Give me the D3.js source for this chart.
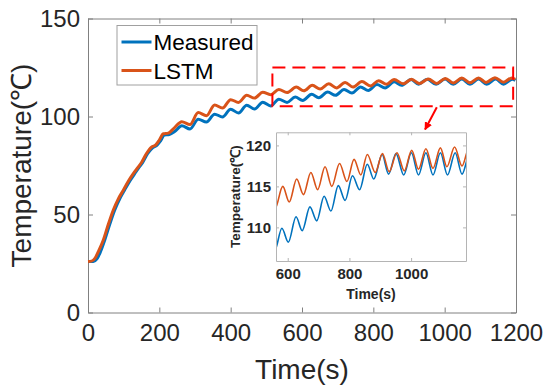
<!DOCTYPE html>
<html>
<head>
<meta charset="utf-8">
<script src="https://cdn.jsdelivr.net/npm/d3@7"></script>
<style>
  body { margin: 0; background: #fff; }
  svg { display: block; }
</style>
</head>
<body>
<svg id="chart" width="545" height="388"></svg>
<script>
// measured temperature (blue)
var measuredTime = [0, 15, 25, 35, 47, 61, 75, 89, 103, 117, 131, 143, 153, 167, 181, 193, 203, 214, 228, 243,
  263, 286, 309, 332, 355, 377, 400, 422, 445, 467, 490, 512, 535, 558, 581, 602, 627, 647, 672, 694,
  718, 740, 764, 786, 810, 833, 858, 879, 906, 927, 951, 976, 1001, 1024, 1048, 1071, 1095, 1118, 1143, 1165, 1190, 1198];
var measuredTemp = [26, 26, 27.3, 31, 37, 45, 52.3, 58, 62.6, 67, 70.8, 74, 76.5, 81, 84, 85.3, 87.5, 90.5, 90.8, 92.3,
  95.3, 93.6, 98.6, 97.2, 101.2, 99.8, 103.7, 101.8, 105.8, 103.8, 107.3, 105.4, 108.8, 107.2, 109.9, 108.2, 111.3, 109.6, 112.5, 110.8,
  113.8, 112.0, 115.1, 113.3, 116.3, 114.6, 117.7, 115.9, 118.9, 116.5, 119.0, 116.4, 119.1, 116.4, 119.1, 116.4, 119.1, 116.4, 119.1, 116.5, 119.0, 118.4];

// LSTM prediction (orange)
var lstmTime = [0, 10, 20, 30, 43, 57, 71, 85, 99, 113, 127, 140, 150, 164, 178, 190, 200, 211, 225, 240,
  263, 286, 309, 332, 355, 377, 400, 422, 445, 467, 490, 512, 535, 558, 584, 605, 629, 651, 675, 697,
  721, 743, 768, 792, 815, 837, 858, 884, 907, 929, 954, 978, 1002, 1024, 1048, 1071, 1095, 1116, 1141, 1165, 1188, 1198];
var lstmTemp = [26, 26.2, 27.8, 31.5, 37, 45, 52.3, 58, 62.4, 67, 70.9, 74, 76.5, 81.1, 84.4, 85.5, 88, 91.2, 91.5, 93.8,
  97.3, 95.9, 102.0, 100.4, 105.9, 104.3, 108.6, 107.2, 110.8, 109.4, 112.4, 111.1, 113.8, 112.2, 115.0, 113.1, 115.9, 114.0, 116.7, 114.6,
  117.4, 115.0, 117.8, 115.6, 118.3, 116.4, 118.9, 116.7, 119.0, 116.8, 119.1, 116.9, 119.4, 117.1, 119.6, 117.2, 119.7, 117.4, 119.8, 117.5, 119.7, 119.0];

var seriesNames = ["Measured", "LSTM"];
var seriesColors = ["#0072BD", "#D95319"];

var xTicks = [0, 200, 400, 600, 800, 1000, 1200];
var yTicks = [0, 50, 100, 150];
var insetXTicks = [600, 800, 1000];
var insetYTicks = [110, 115, 120];

// zoom window drawn on the main plot: [t0, t1, T0, T1]
var zoomWindow = [517, 1192, 105.2, 125];
// arrow from the zoom window to the inset: [t, T] start and end
var arrowFrom = [978, 104.7];
var arrowTo = [945, 93.4];

var series = seriesNames.map(function (name, i) {
  var t = i === 0 ? measuredTime : lstmTime;
  var v = i === 0 ? measuredTemp : lstmTemp;
  return { name: name, color: seriesColors[i], values: t.map(function (d, j) { return [d, v[j]]; }) };
});

var svg = d3.select("#chart");
var font = "Arial, 'Liberation Sans', sans-serif";
var axisColor = "#808080";
var textColor = "#262626";
var fmt = d3.format("d");

// main axes box
var mLeft = 88, mRight = 516, mTop = 18.5, mBottom = 312.5;
var x = d3.scaleLinear().domain([0, 1200]).range([mLeft, mRight]);
var y = d3.scaleLinear().domain([0, 150]).range([mBottom, mTop]);

function styleAxis(g, size, weight) {
  g.attr("font-family", font).attr("font-size", size).attr("font-weight", weight || "normal");
  g.selectAll(".domain").attr("stroke", axisColor);
  g.selectAll(".tick line").attr("stroke", axisColor);
  g.selectAll(".tick text").attr("fill", textColor);
}

svg.append("g")
  .attr("transform", "translate(0," + mBottom + ")")
  .call(d3.axisBottom(x).tickValues(xTicks).tickFormat(fmt).tickSize(-5).tickSizeOuter(0).tickPadding(11))
  .call(styleAxis, 24);
svg.append("g")
  .attr("transform", "translate(0," + mTop + ")")
  .call(d3.axisTop(x).tickValues(xTicks).tickSize(-5).tickSizeOuter(0).tickFormat(""))
  .call(styleAxis, 24);
svg.append("g")
  .attr("transform", "translate(" + mLeft + ",0)")
  .call(d3.axisLeft(y).tickValues(yTicks).tickFormat(fmt).tickSize(-5).tickSizeOuter(0).tickPadding(8))
  .call(styleAxis, 24);
svg.append("g")
  .attr("transform", "translate(" + mRight + ",0)")
  .call(d3.axisRight(y).tickValues(yTicks).tickSize(-5).tickSizeOuter(0).tickFormat(""))
  .call(styleAxis, 24);

var line = d3.line()
  .x(function (d) { return x(d[0]); })
  .y(function (d) { return y(d[1]); })
  .curve(d3.curveMonotoneX);

svg.append("g").selectAll("path")
  .data(series)
  .enter()
  .append("path")
  .attr("fill", "none")
  .attr("stroke", function (d) { return d.color; })
  .attr("stroke-width", 3)
  .attr("stroke-linejoin", "round")
  .attr("d", function (d) { return line(d.values); });

// axis labels
svg.append("text")
  .attr("x", (mLeft + mRight) / 2)
  .attr("y", 379)
  .attr("text-anchor", "middle")
  .attr("font-family", font)
  .attr("font-size", 28)
  .attr("fill", textColor)
  .text("Time(s)");

svg.append("text")
  .attr("transform", "translate(31," + (mTop + mBottom) / 2 + ") rotate(-90)")
  .attr("text-anchor", "middle")
  .attr("font-family", font)
  .attr("font-size", 28)
  .attr("fill", textColor)
  .text("Temperature(℃)");

// legend
var legend = svg.append("g");
legend.append("rect")
  .attr("x", 117).attr("y", 25.5).attr("width", 140).attr("height", 59.5)
  .attr("fill", "#fff").attr("stroke", "#a0a0a0").attr("stroke-width", 1);
var item = legend.selectAll("g.item")
  .data(series)
  .enter()
  .append("g")
  .attr("class", "item")
  .attr("transform", function (d, i) { return "translate(0," + (42 + i * 28.5) + ")"; });
item.append("line")
  .attr("x1", 121.5).attr("x2", 151.5)
  .attr("stroke", function (d) { return d.color; })
  .attr("stroke-width", 3);
item.append("text")
  .attr("x", 153.5).attr("y", 8)
  .attr("font-family", font)
  .attr("font-size", 22.5)
  .attr("fill", "#000")
  .text(function (d) { return d.name; });

// zoom window + arrow
svg.append("rect")
  .attr("x", x(zoomWindow[0]))
  .attr("y", y(zoomWindow[3]))
  .attr("width", x(zoomWindow[1]) - x(zoomWindow[0]))
  .attr("height", y(zoomWindow[2]) - y(zoomWindow[3]))
  .attr("fill", "none")
  .attr("stroke", "#ff0000")
  .attr("stroke-width", 2)
  .attr("stroke-dasharray", "13,7");

svg.append("defs").append("marker")
  .attr("id", "head")
  .attr("viewBox", "0 0 10 10")
  .attr("refX", 9).attr("refY", 5)
  .attr("markerWidth", 4).attr("markerHeight", 4)
  .attr("orient", "auto")
  .append("path")
  .attr("d", "M0,0L10,5L0,10z")
  .attr("fill", "#ff0000");

svg.append("line")
  .attr("x1", x(arrowFrom[0])).attr("y1", y(arrowFrom[1]))
  .attr("x2", x(arrowTo[0])).attr("y2", y(arrowTo[1]))
  .attr("stroke", "#ff0000")
  .attr("stroke-width", 2)
  .attr("marker-end", "url(#head)");

// inset axes
var iLeft = 276, iRight = 466, iTop = 132.3, iBottom = 261;
var ix = d3.scaleLinear().domain([562, 1178]).range([iLeft, iRight]);
var iy = d3.scaleLinear().domain([105.9, 121.6]).range([iBottom, iTop]);

var inset = svg.append("g");
inset.append("rect")
  .attr("x", iLeft).attr("y", iTop)
  .attr("width", iRight - iLeft).attr("height", iBottom - iTop)
  .attr("fill", "#fff");

inset.append("clipPath").attr("id", "insetClip")
  .append("rect")
  .attr("x", iLeft).attr("y", iTop)
  .attr("width", iRight - iLeft).attr("height", iBottom - iTop);

var iline = d3.line()
  .x(function (d) { return ix(d[0]); })
  .y(function (d) { return iy(d[1]); })
  .curve(d3.curveMonotoneX);

inset.append("g")
  .attr("clip-path", "url(#insetClip)")
  .selectAll("path")
  .data(series)
  .enter()
  .append("path")
  .attr("fill", "none")
  .attr("stroke", function (d) { return d.color; })
  .attr("stroke-width", 1.6)
  .attr("d", function (d) { return iline(d.values); });

var insetAxisColor = "#b4b4b4";
function styleInset(g) {
  g.attr("font-family", font).attr("font-size", 15).attr("font-weight", "bold");
  g.selectAll(".domain").attr("stroke", insetAxisColor);
  g.selectAll(".tick line").attr("stroke", insetAxisColor);
  g.selectAll(".tick text").attr("fill", textColor);
}

inset.append("g")
  .attr("transform", "translate(0," + iBottom + ")")
  .call(d3.axisBottom(ix).tickValues(insetXTicks).tickFormat(fmt).tickSize(-3).tickSizeOuter(0).tickPadding(7))
  .call(styleInset);
inset.append("g")
  .attr("transform", "translate(0," + iTop + ")")
  .call(d3.axisTop(ix).tickValues(insetXTicks).tickSize(-3).tickSizeOuter(0).tickFormat(""))
  .call(styleInset);
inset.append("g")
  .attr("transform", "translate(" + iLeft + ",0)")
  .call(d3.axisLeft(iy).tickValues(insetYTicks).tickFormat(fmt).tickSize(-3).tickSizeOuter(0).tickPadding(5))
  .call(styleInset);
inset.append("g")
  .attr("transform", "translate(" + iRight + ",0)")
  .call(d3.axisRight(iy).tickValues(insetYTicks).tickSize(-3).tickSizeOuter(0).tickFormat(""))
  .call(styleInset);

inset.append("text")
  .attr("x", (iLeft + iRight) / 2)
  .attr("y", 299)
  .attr("text-anchor", "middle")
  .attr("font-family", font)
  .attr("font-size", 14)
  .attr("font-weight", "bold")
  .attr("fill", textColor)
  .text("Time(s)");

inset.append("text")
  .attr("transform", "translate(240," + (iTop + iBottom) / 2 + ") rotate(-90)")
  .attr("text-anchor", "middle")
  .attr("font-family", font)
  .attr("font-size", 13.5)
  .attr("font-weight", "bold")
  .attr("fill", textColor)
  .text("Temperature(℃)");
</script>
</body>
</html>
